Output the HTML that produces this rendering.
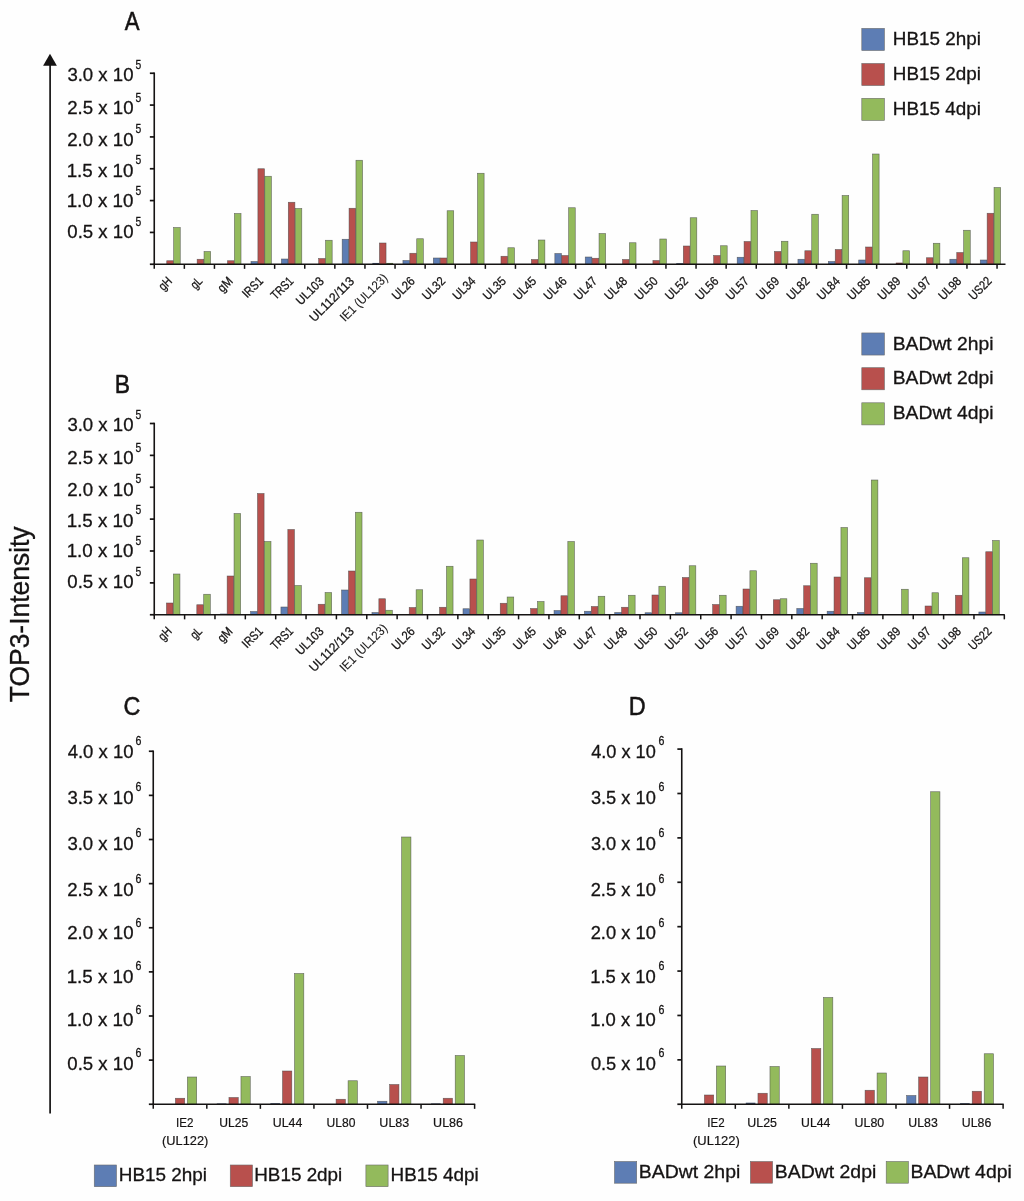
<!DOCTYPE html>
<html lang="en"><head><meta charset="utf-8"><title>TOP3-Intensity figure</title>
<style>html,body{margin:0;padding:0;background:#fefefe;}svg{display:block;}text{font-family:"Liberation Sans", sans-serif;fill:#151313;stroke:#151313;stroke-width:0.3px;}</style>
</head><body>
<svg width="1024" height="1201" viewBox="0 0 1024 1201">
<rect x="0" y="0" width="1024" height="1201" fill="#fefefe"/>
<line x1="50.1" y1="62" x2="50.1" y2="1113.4" stroke="#151313" stroke-width="1.7"/>
<polygon points="50,53.7 56.9,65.7 43.1,65.7" fill="#151313"/>
<text x="29.30" y="702.20" font-size="27.2" text-anchor="start" textLength="175.80" lengthAdjust="spacingAndGlyphs" transform="rotate(-90 29.30 702.20)">TOP3-Intensity</text>
<text x="124.66" y="29.80" font-size="25" text-anchor="start" textLength="14.79" lengthAdjust="spacingAndGlyphs" style="stroke-width:0.5px">A</text>
<text x="114.82" y="392.70" font-size="25" text-anchor="start" textLength="15.29" lengthAdjust="spacingAndGlyphs" style="stroke-width:0.5px">B</text>
<text x="123.51" y="714.60" font-size="25" text-anchor="start" textLength="16.88" lengthAdjust="spacingAndGlyphs" style="stroke-width:0.5px">C</text>
<text x="628.87" y="714.60" font-size="25" text-anchor="start" textLength="16.95" lengthAdjust="spacingAndGlyphs" style="stroke-width:0.5px">D</text>
<rect x="166.75" y="260.75" width="6.60" height="3.50" fill="#b8504d" stroke="#4a4a4a" stroke-opacity="0.8" stroke-width="0.6"/>
<rect x="173.65" y="227.50" width="6.60" height="36.75" fill="#93ba5c" stroke="#4a4a4a" stroke-opacity="0.8" stroke-width="0.6"/>
<rect x="197.13" y="259.25" width="6.60" height="5.00" fill="#b8504d" stroke="#4a4a4a" stroke-opacity="0.8" stroke-width="0.6"/>
<rect x="204.03" y="251.50" width="6.60" height="12.75" fill="#93ba5c" stroke="#4a4a4a" stroke-opacity="0.8" stroke-width="0.6"/>
<rect x="227.52" y="260.75" width="6.60" height="3.50" fill="#b8504d" stroke="#4a4a4a" stroke-opacity="0.8" stroke-width="0.6"/>
<rect x="234.42" y="213.50" width="6.60" height="50.75" fill="#93ba5c" stroke="#4a4a4a" stroke-opacity="0.8" stroke-width="0.6"/>
<rect x="251.00" y="261.50" width="6.60" height="2.75" fill="#5d7db4" stroke="#4a4a4a" stroke-opacity="0.8" stroke-width="0.6"/>
<rect x="257.90" y="168.75" width="6.60" height="95.50" fill="#b8504d" stroke="#4a4a4a" stroke-opacity="0.8" stroke-width="0.6"/>
<rect x="264.80" y="176.25" width="6.60" height="88.00" fill="#93ba5c" stroke="#4a4a4a" stroke-opacity="0.8" stroke-width="0.6"/>
<rect x="281.39" y="259.00" width="6.60" height="5.25" fill="#5d7db4" stroke="#4a4a4a" stroke-opacity="0.8" stroke-width="0.6"/>
<rect x="288.29" y="202.25" width="6.60" height="62.00" fill="#b8504d" stroke="#4a4a4a" stroke-opacity="0.8" stroke-width="0.6"/>
<rect x="295.19" y="208.50" width="6.60" height="55.75" fill="#93ba5c" stroke="#4a4a4a" stroke-opacity="0.8" stroke-width="0.6"/>
<rect x="318.67" y="258.50" width="6.60" height="5.75" fill="#b8504d" stroke="#4a4a4a" stroke-opacity="0.8" stroke-width="0.6"/>
<rect x="325.57" y="240.25" width="6.60" height="24.00" fill="#93ba5c" stroke="#4a4a4a" stroke-opacity="0.8" stroke-width="0.6"/>
<rect x="342.16" y="239.25" width="6.60" height="25.00" fill="#5d7db4" stroke="#4a4a4a" stroke-opacity="0.8" stroke-width="0.6"/>
<rect x="349.06" y="208.25" width="6.60" height="56.00" fill="#b8504d" stroke="#4a4a4a" stroke-opacity="0.8" stroke-width="0.6"/>
<rect x="355.96" y="160.25" width="6.60" height="104.00" fill="#93ba5c" stroke="#4a4a4a" stroke-opacity="0.8" stroke-width="0.6"/>
<rect x="372.39" y="262.95" width="6.90" height="1.30" fill="#3f4f6e"/>
<rect x="379.44" y="243.00" width="6.60" height="21.25" fill="#b8504d" stroke="#4a4a4a" stroke-opacity="0.8" stroke-width="0.6"/>
<rect x="386.19" y="262.95" width="6.90" height="1.30" fill="#5d7340"/>
<rect x="402.93" y="260.50" width="6.60" height="3.75" fill="#5d7db4" stroke="#4a4a4a" stroke-opacity="0.8" stroke-width="0.6"/>
<rect x="409.83" y="253.25" width="6.60" height="11.00" fill="#b8504d" stroke="#4a4a4a" stroke-opacity="0.8" stroke-width="0.6"/>
<rect x="416.73" y="238.75" width="6.60" height="25.50" fill="#93ba5c" stroke="#4a4a4a" stroke-opacity="0.8" stroke-width="0.6"/>
<rect x="433.31" y="258.00" width="6.60" height="6.25" fill="#5d7db4" stroke="#4a4a4a" stroke-opacity="0.8" stroke-width="0.6"/>
<rect x="440.21" y="258.00" width="6.60" height="6.25" fill="#b8504d" stroke="#4a4a4a" stroke-opacity="0.8" stroke-width="0.6"/>
<rect x="447.12" y="210.75" width="6.60" height="53.50" fill="#93ba5c" stroke="#4a4a4a" stroke-opacity="0.8" stroke-width="0.6"/>
<rect x="470.60" y="242.00" width="6.60" height="22.25" fill="#b8504d" stroke="#4a4a4a" stroke-opacity="0.8" stroke-width="0.6"/>
<rect x="477.50" y="173.25" width="6.60" height="91.00" fill="#93ba5c" stroke="#4a4a4a" stroke-opacity="0.8" stroke-width="0.6"/>
<rect x="500.98" y="256.25" width="6.60" height="8.00" fill="#b8504d" stroke="#4a4a4a" stroke-opacity="0.8" stroke-width="0.6"/>
<rect x="507.88" y="247.75" width="6.60" height="16.50" fill="#93ba5c" stroke="#4a4a4a" stroke-opacity="0.8" stroke-width="0.6"/>
<rect x="531.37" y="259.50" width="6.60" height="4.75" fill="#b8504d" stroke="#4a4a4a" stroke-opacity="0.8" stroke-width="0.6"/>
<rect x="538.27" y="240.00" width="6.60" height="24.25" fill="#93ba5c" stroke="#4a4a4a" stroke-opacity="0.8" stroke-width="0.6"/>
<rect x="554.85" y="253.50" width="6.60" height="10.75" fill="#5d7db4" stroke="#4a4a4a" stroke-opacity="0.8" stroke-width="0.6"/>
<rect x="561.75" y="255.50" width="6.60" height="8.75" fill="#b8504d" stroke="#4a4a4a" stroke-opacity="0.8" stroke-width="0.6"/>
<rect x="568.65" y="207.75" width="6.60" height="56.50" fill="#93ba5c" stroke="#4a4a4a" stroke-opacity="0.8" stroke-width="0.6"/>
<rect x="585.24" y="257.00" width="6.60" height="7.25" fill="#5d7db4" stroke="#4a4a4a" stroke-opacity="0.8" stroke-width="0.6"/>
<rect x="592.14" y="258.25" width="6.60" height="6.00" fill="#b8504d" stroke="#4a4a4a" stroke-opacity="0.8" stroke-width="0.6"/>
<rect x="599.04" y="233.50" width="6.60" height="30.75" fill="#93ba5c" stroke="#4a4a4a" stroke-opacity="0.8" stroke-width="0.6"/>
<rect x="622.52" y="259.50" width="6.60" height="4.75" fill="#b8504d" stroke="#4a4a4a" stroke-opacity="0.8" stroke-width="0.6"/>
<rect x="629.42" y="242.75" width="6.60" height="21.50" fill="#93ba5c" stroke="#4a4a4a" stroke-opacity="0.8" stroke-width="0.6"/>
<rect x="652.91" y="260.50" width="6.60" height="3.75" fill="#b8504d" stroke="#4a4a4a" stroke-opacity="0.8" stroke-width="0.6"/>
<rect x="659.81" y="239.00" width="6.60" height="25.25" fill="#93ba5c" stroke="#4a4a4a" stroke-opacity="0.8" stroke-width="0.6"/>
<rect x="676.25" y="263.20" width="6.90" height="1.05" fill="#3f4f6e"/>
<rect x="683.30" y="246.00" width="6.60" height="18.25" fill="#b8504d" stroke="#4a4a4a" stroke-opacity="0.8" stroke-width="0.6"/>
<rect x="690.20" y="217.75" width="6.60" height="46.50" fill="#93ba5c" stroke="#4a4a4a" stroke-opacity="0.8" stroke-width="0.6"/>
<rect x="713.68" y="255.50" width="6.60" height="8.75" fill="#b8504d" stroke="#4a4a4a" stroke-opacity="0.8" stroke-width="0.6"/>
<rect x="720.58" y="245.75" width="6.60" height="18.50" fill="#93ba5c" stroke="#4a4a4a" stroke-opacity="0.8" stroke-width="0.6"/>
<rect x="737.17" y="257.25" width="6.60" height="7.00" fill="#5d7db4" stroke="#4a4a4a" stroke-opacity="0.8" stroke-width="0.6"/>
<rect x="744.07" y="241.50" width="6.60" height="22.75" fill="#b8504d" stroke="#4a4a4a" stroke-opacity="0.8" stroke-width="0.6"/>
<rect x="750.97" y="210.50" width="6.60" height="53.75" fill="#93ba5c" stroke="#4a4a4a" stroke-opacity="0.8" stroke-width="0.6"/>
<rect x="774.45" y="251.50" width="6.60" height="12.75" fill="#b8504d" stroke="#4a4a4a" stroke-opacity="0.8" stroke-width="0.6"/>
<rect x="781.35" y="241.25" width="6.60" height="23.00" fill="#93ba5c" stroke="#4a4a4a" stroke-opacity="0.8" stroke-width="0.6"/>
<rect x="797.94" y="259.25" width="6.60" height="5.00" fill="#5d7db4" stroke="#4a4a4a" stroke-opacity="0.8" stroke-width="0.6"/>
<rect x="804.84" y="250.75" width="6.60" height="13.50" fill="#b8504d" stroke="#4a4a4a" stroke-opacity="0.8" stroke-width="0.6"/>
<rect x="811.74" y="214.25" width="6.60" height="50.00" fill="#93ba5c" stroke="#4a4a4a" stroke-opacity="0.8" stroke-width="0.6"/>
<rect x="828.32" y="261.50" width="6.60" height="2.75" fill="#5d7db4" stroke="#4a4a4a" stroke-opacity="0.8" stroke-width="0.6"/>
<rect x="835.22" y="249.50" width="6.60" height="14.75" fill="#b8504d" stroke="#4a4a4a" stroke-opacity="0.8" stroke-width="0.6"/>
<rect x="842.12" y="195.50" width="6.60" height="68.75" fill="#93ba5c" stroke="#4a4a4a" stroke-opacity="0.8" stroke-width="0.6"/>
<rect x="858.71" y="260.00" width="6.60" height="4.25" fill="#5d7db4" stroke="#4a4a4a" stroke-opacity="0.8" stroke-width="0.6"/>
<rect x="865.61" y="247.00" width="6.60" height="17.25" fill="#b8504d" stroke="#4a4a4a" stroke-opacity="0.8" stroke-width="0.6"/>
<rect x="872.50" y="154.00" width="6.60" height="110.25" fill="#93ba5c" stroke="#4a4a4a" stroke-opacity="0.8" stroke-width="0.6"/>
<rect x="895.84" y="262.70" width="6.90" height="1.55" fill="#6e3a38"/>
<rect x="902.89" y="250.75" width="6.60" height="13.50" fill="#93ba5c" stroke="#4a4a4a" stroke-opacity="0.8" stroke-width="0.6"/>
<rect x="926.38" y="257.75" width="6.60" height="6.50" fill="#b8504d" stroke="#4a4a4a" stroke-opacity="0.8" stroke-width="0.6"/>
<rect x="933.27" y="243.25" width="6.60" height="21.00" fill="#93ba5c" stroke="#4a4a4a" stroke-opacity="0.8" stroke-width="0.6"/>
<rect x="949.86" y="259.25" width="6.60" height="5.00" fill="#5d7db4" stroke="#4a4a4a" stroke-opacity="0.8" stroke-width="0.6"/>
<rect x="956.76" y="252.50" width="6.60" height="11.75" fill="#b8504d" stroke="#4a4a4a" stroke-opacity="0.8" stroke-width="0.6"/>
<rect x="963.66" y="230.25" width="6.60" height="34.00" fill="#93ba5c" stroke="#4a4a4a" stroke-opacity="0.8" stroke-width="0.6"/>
<rect x="980.25" y="260.00" width="6.60" height="4.25" fill="#5d7db4" stroke="#4a4a4a" stroke-opacity="0.8" stroke-width="0.6"/>
<rect x="987.14" y="213.25" width="6.60" height="51.00" fill="#b8504d" stroke="#4a4a4a" stroke-opacity="0.8" stroke-width="0.6"/>
<rect x="994.04" y="187.50" width="6.60" height="76.75" fill="#93ba5c" stroke="#4a4a4a" stroke-opacity="0.8" stroke-width="0.6"/>
<line x1="154.25" y1="72.45" x2="154.25" y2="264.85" stroke="#151313" stroke-width="1.6"/>
<line x1="153.65" y1="264.25" x2="1005.50" y2="264.25" stroke="#151313" stroke-width="1.35"/>
<line x1="149.85" y1="73.25" x2="154.25" y2="73.25" stroke="#151313" stroke-width="1.7"/>
<line x1="149.85" y1="105.08" x2="154.25" y2="105.08" stroke="#151313" stroke-width="1.7"/>
<line x1="149.85" y1="136.92" x2="154.25" y2="136.92" stroke="#151313" stroke-width="1.7"/>
<line x1="149.85" y1="168.75" x2="154.25" y2="168.75" stroke="#151313" stroke-width="1.7"/>
<line x1="149.85" y1="200.58" x2="154.25" y2="200.58" stroke="#151313" stroke-width="1.7"/>
<line x1="149.85" y1="232.42" x2="154.25" y2="232.42" stroke="#151313" stroke-width="1.7"/>
<line x1="149.85" y1="264.25" x2="154.25" y2="264.25" stroke="#151313" stroke-width="1.7"/>
<line x1="154.25" y1="264.25" x2="154.25" y2="268.85" stroke="#151313" stroke-width="1.5"/>
<line x1="184.35" y1="264.25" x2="184.35" y2="268.85" stroke="#151313" stroke-width="1.5"/>
<line x1="214.45" y1="264.25" x2="214.45" y2="268.85" stroke="#151313" stroke-width="1.5"/>
<line x1="244.55" y1="264.25" x2="244.55" y2="268.85" stroke="#151313" stroke-width="1.5"/>
<line x1="274.65" y1="264.25" x2="274.65" y2="268.85" stroke="#151313" stroke-width="1.5"/>
<line x1="304.75" y1="264.25" x2="304.75" y2="268.85" stroke="#151313" stroke-width="1.5"/>
<line x1="334.85" y1="264.25" x2="334.85" y2="268.85" stroke="#151313" stroke-width="1.5"/>
<line x1="364.95" y1="264.25" x2="364.95" y2="268.85" stroke="#151313" stroke-width="1.5"/>
<line x1="395.05" y1="264.25" x2="395.05" y2="268.85" stroke="#151313" stroke-width="1.5"/>
<line x1="425.15" y1="264.25" x2="425.15" y2="268.85" stroke="#151313" stroke-width="1.5"/>
<line x1="455.25" y1="264.25" x2="455.25" y2="268.85" stroke="#151313" stroke-width="1.5"/>
<line x1="485.35" y1="264.25" x2="485.35" y2="268.85" stroke="#151313" stroke-width="1.5"/>
<line x1="515.45" y1="264.25" x2="515.45" y2="268.85" stroke="#151313" stroke-width="1.5"/>
<line x1="545.55" y1="264.25" x2="545.55" y2="268.85" stroke="#151313" stroke-width="1.5"/>
<line x1="575.65" y1="264.25" x2="575.65" y2="268.85" stroke="#151313" stroke-width="1.5"/>
<line x1="605.75" y1="264.25" x2="605.75" y2="268.85" stroke="#151313" stroke-width="1.5"/>
<line x1="635.85" y1="264.25" x2="635.85" y2="268.85" stroke="#151313" stroke-width="1.5"/>
<line x1="665.95" y1="264.25" x2="665.95" y2="268.85" stroke="#151313" stroke-width="1.5"/>
<line x1="696.05" y1="264.25" x2="696.05" y2="268.85" stroke="#151313" stroke-width="1.5"/>
<line x1="726.15" y1="264.25" x2="726.15" y2="268.85" stroke="#151313" stroke-width="1.5"/>
<line x1="756.25" y1="264.25" x2="756.25" y2="268.85" stroke="#151313" stroke-width="1.5"/>
<line x1="786.35" y1="264.25" x2="786.35" y2="268.85" stroke="#151313" stroke-width="1.5"/>
<line x1="816.45" y1="264.25" x2="816.45" y2="268.85" stroke="#151313" stroke-width="1.5"/>
<line x1="846.55" y1="264.25" x2="846.55" y2="268.85" stroke="#151313" stroke-width="1.5"/>
<line x1="876.65" y1="264.25" x2="876.65" y2="268.85" stroke="#151313" stroke-width="1.5"/>
<line x1="906.75" y1="264.25" x2="906.75" y2="268.85" stroke="#151313" stroke-width="1.5"/>
<line x1="936.85" y1="264.25" x2="936.85" y2="268.85" stroke="#151313" stroke-width="1.5"/>
<line x1="966.95" y1="264.25" x2="966.95" y2="268.85" stroke="#151313" stroke-width="1.5"/>
<line x1="997.05" y1="264.25" x2="997.05" y2="268.85" stroke="#151313" stroke-width="1.5"/>
<text x="67.39" y="81.15" font-size="18.9" text-anchor="start" textLength="66.13" lengthAdjust="spacingAndGlyphs">3.0 x 10</text>
<text x="135.59" y="68.55" font-size="12.6" text-anchor="start" textLength="5.75" lengthAdjust="spacingAndGlyphs">5</text>
<text x="67.16" y="114.45" font-size="18.9" text-anchor="start" textLength="66.37" lengthAdjust="spacingAndGlyphs">2.5 x 10</text>
<text x="135.59" y="101.85" font-size="12.6" text-anchor="start" textLength="5.75" lengthAdjust="spacingAndGlyphs">5</text>
<text x="67.16" y="145.75" font-size="18.9" text-anchor="start" textLength="66.37" lengthAdjust="spacingAndGlyphs">2.0 x 10</text>
<text x="135.59" y="133.15" font-size="12.6" text-anchor="start" textLength="5.75" lengthAdjust="spacingAndGlyphs">5</text>
<text x="66.67" y="176.55" font-size="18.9" text-anchor="start" textLength="66.87" lengthAdjust="spacingAndGlyphs">1.5 x 10</text>
<text x="135.59" y="163.95" font-size="12.6" text-anchor="start" textLength="5.75" lengthAdjust="spacingAndGlyphs">5</text>
<text x="66.67" y="207.40" font-size="18.9" text-anchor="start" textLength="66.87" lengthAdjust="spacingAndGlyphs">1.0 x 10</text>
<text x="135.59" y="194.80" font-size="12.6" text-anchor="start" textLength="5.75" lengthAdjust="spacingAndGlyphs">5</text>
<text x="67.37" y="238.20" font-size="18.9" text-anchor="start" textLength="66.15" lengthAdjust="spacingAndGlyphs">0.5 x 10</text>
<text x="135.59" y="225.60" font-size="12.6" text-anchor="start" textLength="5.75" lengthAdjust="spacingAndGlyphs">5</text>
<text x="172.83" y="281.95" font-size="12.6" text-anchor="end" textLength="13.20" lengthAdjust="spacingAndGlyphs" transform="rotate(-45 172.83 281.95)" style="stroke-width:0.28px">gH</text>
<text x="203.19" y="281.95" font-size="12.6" text-anchor="end" textLength="11.00" lengthAdjust="spacingAndGlyphs" transform="rotate(-45 203.19 281.95)" style="stroke-width:0.28px">gL</text>
<text x="233.55" y="281.95" font-size="12.6" text-anchor="end" textLength="15.50" lengthAdjust="spacingAndGlyphs" transform="rotate(-45 233.55 281.95)" style="stroke-width:0.28px">gM</text>
<text x="263.91" y="281.95" font-size="12.6" text-anchor="end" textLength="23.50" lengthAdjust="spacingAndGlyphs" transform="rotate(-45 263.91 281.95)" style="stroke-width:0.28px">IRS1</text>
<text x="294.27" y="281.95" font-size="12.6" text-anchor="end" textLength="26.00" lengthAdjust="spacingAndGlyphs" transform="rotate(-45 294.27 281.95)" style="stroke-width:0.28px">TRS1</text>
<text x="324.63" y="281.95" font-size="12.6" text-anchor="end" textLength="33.50" lengthAdjust="spacingAndGlyphs" transform="rotate(-45 324.63 281.95)" style="stroke-width:0.28px">UL103</text>
<text x="354.99" y="281.95" font-size="12.6" text-anchor="end" textLength="57.20" lengthAdjust="spacingAndGlyphs" transform="rotate(-45 354.99 281.95)" style="stroke-width:0.28px">UL112/113</text>
<text x="388.35" y="278.95" font-size="12.6" text-anchor="end" textLength="61.30" lengthAdjust="spacingAndGlyphs" transform="rotate(-45 388.35 278.95)" style="stroke-width:0.1px;fill:#222020">IE1 (UL123)</text>
<text x="415.71" y="281.95" font-size="12.6" text-anchor="end" textLength="26.50" lengthAdjust="spacingAndGlyphs" transform="rotate(-45 415.71 281.95)" style="stroke-width:0.28px">UL26</text>
<text x="446.07" y="281.95" font-size="12.6" text-anchor="end" textLength="26.50" lengthAdjust="spacingAndGlyphs" transform="rotate(-45 446.07 281.95)" style="stroke-width:0.28px">UL32</text>
<text x="476.43" y="281.95" font-size="12.6" text-anchor="end" textLength="26.50" lengthAdjust="spacingAndGlyphs" transform="rotate(-45 476.43 281.95)" style="stroke-width:0.28px">UL34</text>
<text x="506.79" y="281.95" font-size="12.6" text-anchor="end" textLength="26.50" lengthAdjust="spacingAndGlyphs" transform="rotate(-45 506.79 281.95)" style="stroke-width:0.28px">UL35</text>
<text x="537.15" y="281.95" font-size="12.6" text-anchor="end" textLength="26.50" lengthAdjust="spacingAndGlyphs" transform="rotate(-45 537.15 281.95)" style="stroke-width:0.28px">UL45</text>
<text x="567.51" y="281.95" font-size="12.6" text-anchor="end" textLength="26.50" lengthAdjust="spacingAndGlyphs" transform="rotate(-45 567.51 281.95)" style="stroke-width:0.28px">UL46</text>
<text x="597.87" y="281.95" font-size="12.6" text-anchor="end" textLength="26.50" lengthAdjust="spacingAndGlyphs" transform="rotate(-45 597.87 281.95)" style="stroke-width:0.28px">UL47</text>
<text x="628.23" y="281.95" font-size="12.6" text-anchor="end" textLength="26.50" lengthAdjust="spacingAndGlyphs" transform="rotate(-45 628.23 281.95)" style="stroke-width:0.28px">UL48</text>
<text x="658.59" y="281.95" font-size="12.6" text-anchor="end" textLength="26.50" lengthAdjust="spacingAndGlyphs" transform="rotate(-45 658.59 281.95)" style="stroke-width:0.28px">UL50</text>
<text x="688.95" y="281.95" font-size="12.6" text-anchor="end" textLength="26.50" lengthAdjust="spacingAndGlyphs" transform="rotate(-45 688.95 281.95)" style="stroke-width:0.28px">UL52</text>
<text x="719.31" y="281.95" font-size="12.6" text-anchor="end" textLength="26.50" lengthAdjust="spacingAndGlyphs" transform="rotate(-45 719.31 281.95)" style="stroke-width:0.28px">UL56</text>
<text x="749.67" y="281.95" font-size="12.6" text-anchor="end" textLength="26.50" lengthAdjust="spacingAndGlyphs" transform="rotate(-45 749.67 281.95)" style="stroke-width:0.28px">UL57</text>
<text x="780.03" y="281.95" font-size="12.6" text-anchor="end" textLength="26.50" lengthAdjust="spacingAndGlyphs" transform="rotate(-45 780.03 281.95)" style="stroke-width:0.28px">UL69</text>
<text x="810.39" y="281.95" font-size="12.6" text-anchor="end" textLength="26.50" lengthAdjust="spacingAndGlyphs" transform="rotate(-45 810.39 281.95)" style="stroke-width:0.28px">UL82</text>
<text x="840.75" y="281.95" font-size="12.6" text-anchor="end" textLength="26.50" lengthAdjust="spacingAndGlyphs" transform="rotate(-45 840.75 281.95)" style="stroke-width:0.28px">UL84</text>
<text x="871.11" y="281.95" font-size="12.6" text-anchor="end" textLength="26.50" lengthAdjust="spacingAndGlyphs" transform="rotate(-45 871.11 281.95)" style="stroke-width:0.28px">UL85</text>
<text x="901.47" y="281.95" font-size="12.6" text-anchor="end" textLength="26.50" lengthAdjust="spacingAndGlyphs" transform="rotate(-45 901.47 281.95)" style="stroke-width:0.28px">UL89</text>
<text x="931.83" y="281.95" font-size="12.6" text-anchor="end" textLength="26.50" lengthAdjust="spacingAndGlyphs" transform="rotate(-45 931.83 281.95)" style="stroke-width:0.28px">UL97</text>
<text x="962.19" y="281.95" font-size="12.6" text-anchor="end" textLength="26.50" lengthAdjust="spacingAndGlyphs" transform="rotate(-45 962.19 281.95)" style="stroke-width:0.28px">UL98</text>
<text x="992.55" y="281.95" font-size="12.6" text-anchor="end" textLength="26.50" lengthAdjust="spacingAndGlyphs" transform="rotate(-45 992.55 281.95)" style="stroke-width:0.28px">US22</text>
<rect x="166.45" y="603.00" width="6.60" height="11.75" fill="#b8504d" stroke="#4a4a4a" stroke-opacity="0.8" stroke-width="0.6"/>
<rect x="173.35" y="574.00" width="6.60" height="40.75" fill="#93ba5c" stroke="#4a4a4a" stroke-opacity="0.8" stroke-width="0.6"/>
<rect x="196.80" y="604.75" width="6.60" height="10.00" fill="#b8504d" stroke="#4a4a4a" stroke-opacity="0.8" stroke-width="0.6"/>
<rect x="203.70" y="594.25" width="6.60" height="20.50" fill="#93ba5c" stroke="#4a4a4a" stroke-opacity="0.8" stroke-width="0.6"/>
<rect x="220.09" y="613.70" width="6.90" height="1.05" fill="#3f4f6e"/>
<rect x="227.14" y="576.00" width="6.60" height="38.75" fill="#b8504d" stroke="#4a4a4a" stroke-opacity="0.8" stroke-width="0.6"/>
<rect x="234.04" y="513.50" width="6.60" height="101.25" fill="#93ba5c" stroke="#4a4a4a" stroke-opacity="0.8" stroke-width="0.6"/>
<rect x="250.59" y="611.50" width="6.60" height="3.25" fill="#5d7db4" stroke="#4a4a4a" stroke-opacity="0.8" stroke-width="0.6"/>
<rect x="257.48" y="493.50" width="6.60" height="121.25" fill="#b8504d" stroke="#4a4a4a" stroke-opacity="0.8" stroke-width="0.6"/>
<rect x="264.38" y="541.50" width="6.60" height="73.25" fill="#93ba5c" stroke="#4a4a4a" stroke-opacity="0.8" stroke-width="0.6"/>
<rect x="280.93" y="607.00" width="6.60" height="7.75" fill="#5d7db4" stroke="#4a4a4a" stroke-opacity="0.8" stroke-width="0.6"/>
<rect x="287.83" y="529.50" width="6.60" height="85.25" fill="#b8504d" stroke="#4a4a4a" stroke-opacity="0.8" stroke-width="0.6"/>
<rect x="294.73" y="585.50" width="6.60" height="29.25" fill="#93ba5c" stroke="#4a4a4a" stroke-opacity="0.8" stroke-width="0.6"/>
<rect x="318.17" y="604.25" width="6.60" height="10.50" fill="#b8504d" stroke="#4a4a4a" stroke-opacity="0.8" stroke-width="0.6"/>
<rect x="325.07" y="592.50" width="6.60" height="22.25" fill="#93ba5c" stroke="#4a4a4a" stroke-opacity="0.8" stroke-width="0.6"/>
<rect x="341.62" y="590.00" width="6.60" height="24.75" fill="#5d7db4" stroke="#4a4a4a" stroke-opacity="0.8" stroke-width="0.6"/>
<rect x="348.52" y="571.00" width="6.60" height="43.75" fill="#b8504d" stroke="#4a4a4a" stroke-opacity="0.8" stroke-width="0.6"/>
<rect x="355.42" y="512.25" width="6.60" height="102.50" fill="#93ba5c" stroke="#4a4a4a" stroke-opacity="0.8" stroke-width="0.6"/>
<rect x="371.96" y="612.50" width="6.60" height="2.25" fill="#5d7db4" stroke="#4a4a4a" stroke-opacity="0.8" stroke-width="0.6"/>
<rect x="378.86" y="598.75" width="6.60" height="16.00" fill="#b8504d" stroke="#4a4a4a" stroke-opacity="0.8" stroke-width="0.6"/>
<rect x="385.76" y="610.25" width="6.60" height="4.50" fill="#93ba5c" stroke="#4a4a4a" stroke-opacity="0.8" stroke-width="0.6"/>
<rect x="409.21" y="607.50" width="6.60" height="7.25" fill="#b8504d" stroke="#4a4a4a" stroke-opacity="0.8" stroke-width="0.6"/>
<rect x="416.11" y="589.75" width="6.60" height="25.00" fill="#93ba5c" stroke="#4a4a4a" stroke-opacity="0.8" stroke-width="0.6"/>
<rect x="439.55" y="607.25" width="6.60" height="7.50" fill="#b8504d" stroke="#4a4a4a" stroke-opacity="0.8" stroke-width="0.6"/>
<rect x="446.45" y="566.25" width="6.60" height="48.50" fill="#93ba5c" stroke="#4a4a4a" stroke-opacity="0.8" stroke-width="0.6"/>
<rect x="463.00" y="608.75" width="6.60" height="6.00" fill="#5d7db4" stroke="#4a4a4a" stroke-opacity="0.8" stroke-width="0.6"/>
<rect x="469.90" y="579.00" width="6.60" height="35.75" fill="#b8504d" stroke="#4a4a4a" stroke-opacity="0.8" stroke-width="0.6"/>
<rect x="476.80" y="540.00" width="6.60" height="74.75" fill="#93ba5c" stroke="#4a4a4a" stroke-opacity="0.8" stroke-width="0.6"/>
<rect x="500.24" y="603.25" width="6.60" height="11.50" fill="#b8504d" stroke="#4a4a4a" stroke-opacity="0.8" stroke-width="0.6"/>
<rect x="507.14" y="597.00" width="6.60" height="17.75" fill="#93ba5c" stroke="#4a4a4a" stroke-opacity="0.8" stroke-width="0.6"/>
<rect x="530.59" y="608.50" width="6.60" height="6.25" fill="#b8504d" stroke="#4a4a4a" stroke-opacity="0.8" stroke-width="0.6"/>
<rect x="537.49" y="601.50" width="6.60" height="13.25" fill="#93ba5c" stroke="#4a4a4a" stroke-opacity="0.8" stroke-width="0.6"/>
<rect x="554.03" y="610.50" width="6.60" height="4.25" fill="#5d7db4" stroke="#4a4a4a" stroke-opacity="0.8" stroke-width="0.6"/>
<rect x="560.93" y="595.75" width="6.60" height="19.00" fill="#b8504d" stroke="#4a4a4a" stroke-opacity="0.8" stroke-width="0.6"/>
<rect x="567.83" y="541.50" width="6.60" height="73.25" fill="#93ba5c" stroke="#4a4a4a" stroke-opacity="0.8" stroke-width="0.6"/>
<rect x="584.38" y="611.25" width="6.60" height="3.50" fill="#5d7db4" stroke="#4a4a4a" stroke-opacity="0.8" stroke-width="0.6"/>
<rect x="591.28" y="606.50" width="6.60" height="8.25" fill="#b8504d" stroke="#4a4a4a" stroke-opacity="0.8" stroke-width="0.6"/>
<rect x="598.18" y="596.25" width="6.60" height="18.50" fill="#93ba5c" stroke="#4a4a4a" stroke-opacity="0.8" stroke-width="0.6"/>
<rect x="614.72" y="612.50" width="6.60" height="2.25" fill="#5d7db4" stroke="#4a4a4a" stroke-opacity="0.8" stroke-width="0.6"/>
<rect x="621.62" y="607.25" width="6.60" height="7.50" fill="#b8504d" stroke="#4a4a4a" stroke-opacity="0.8" stroke-width="0.6"/>
<rect x="628.52" y="595.25" width="6.60" height="19.50" fill="#93ba5c" stroke="#4a4a4a" stroke-opacity="0.8" stroke-width="0.6"/>
<rect x="645.07" y="612.75" width="6.60" height="2.00" fill="#5d7db4" stroke="#4a4a4a" stroke-opacity="0.8" stroke-width="0.6"/>
<rect x="651.97" y="595.00" width="6.60" height="19.75" fill="#b8504d" stroke="#4a4a4a" stroke-opacity="0.8" stroke-width="0.6"/>
<rect x="658.87" y="586.25" width="6.60" height="28.50" fill="#93ba5c" stroke="#4a4a4a" stroke-opacity="0.8" stroke-width="0.6"/>
<rect x="675.41" y="612.75" width="6.60" height="2.00" fill="#5d7db4" stroke="#4a4a4a" stroke-opacity="0.8" stroke-width="0.6"/>
<rect x="682.31" y="577.50" width="6.60" height="37.25" fill="#b8504d" stroke="#4a4a4a" stroke-opacity="0.8" stroke-width="0.6"/>
<rect x="689.21" y="565.75" width="6.60" height="49.00" fill="#93ba5c" stroke="#4a4a4a" stroke-opacity="0.8" stroke-width="0.6"/>
<rect x="712.66" y="604.50" width="6.60" height="10.25" fill="#b8504d" stroke="#4a4a4a" stroke-opacity="0.8" stroke-width="0.6"/>
<rect x="719.56" y="595.25" width="6.60" height="19.50" fill="#93ba5c" stroke="#4a4a4a" stroke-opacity="0.8" stroke-width="0.6"/>
<rect x="736.10" y="606.25" width="6.60" height="8.50" fill="#5d7db4" stroke="#4a4a4a" stroke-opacity="0.8" stroke-width="0.6"/>
<rect x="743.00" y="589.00" width="6.60" height="25.75" fill="#b8504d" stroke="#4a4a4a" stroke-opacity="0.8" stroke-width="0.6"/>
<rect x="749.90" y="570.75" width="6.60" height="44.00" fill="#93ba5c" stroke="#4a4a4a" stroke-opacity="0.8" stroke-width="0.6"/>
<rect x="773.35" y="599.75" width="6.60" height="15.00" fill="#b8504d" stroke="#4a4a4a" stroke-opacity="0.8" stroke-width="0.6"/>
<rect x="780.25" y="598.75" width="6.60" height="16.00" fill="#93ba5c" stroke="#4a4a4a" stroke-opacity="0.8" stroke-width="0.6"/>
<rect x="796.79" y="608.50" width="6.60" height="6.25" fill="#5d7db4" stroke="#4a4a4a" stroke-opacity="0.8" stroke-width="0.6"/>
<rect x="803.69" y="585.75" width="6.60" height="29.00" fill="#b8504d" stroke="#4a4a4a" stroke-opacity="0.8" stroke-width="0.6"/>
<rect x="810.59" y="563.25" width="6.60" height="51.50" fill="#93ba5c" stroke="#4a4a4a" stroke-opacity="0.8" stroke-width="0.6"/>
<rect x="827.14" y="611.25" width="6.60" height="3.50" fill="#5d7db4" stroke="#4a4a4a" stroke-opacity="0.8" stroke-width="0.6"/>
<rect x="834.04" y="577.00" width="6.60" height="37.75" fill="#b8504d" stroke="#4a4a4a" stroke-opacity="0.8" stroke-width="0.6"/>
<rect x="840.94" y="527.50" width="6.60" height="87.25" fill="#93ba5c" stroke="#4a4a4a" stroke-opacity="0.8" stroke-width="0.6"/>
<rect x="857.48" y="612.50" width="6.60" height="2.25" fill="#5d7db4" stroke="#4a4a4a" stroke-opacity="0.8" stroke-width="0.6"/>
<rect x="864.38" y="577.75" width="6.60" height="37.00" fill="#b8504d" stroke="#4a4a4a" stroke-opacity="0.8" stroke-width="0.6"/>
<rect x="871.28" y="480.00" width="6.60" height="134.75" fill="#93ba5c" stroke="#4a4a4a" stroke-opacity="0.8" stroke-width="0.6"/>
<rect x="901.63" y="589.25" width="6.60" height="25.50" fill="#93ba5c" stroke="#4a4a4a" stroke-opacity="0.8" stroke-width="0.6"/>
<rect x="925.07" y="606.00" width="6.60" height="8.75" fill="#b8504d" stroke="#4a4a4a" stroke-opacity="0.8" stroke-width="0.6"/>
<rect x="931.97" y="592.75" width="6.60" height="22.00" fill="#93ba5c" stroke="#4a4a4a" stroke-opacity="0.8" stroke-width="0.6"/>
<rect x="948.37" y="613.95" width="6.90" height="0.80" fill="#3f4f6e"/>
<rect x="955.42" y="595.25" width="6.60" height="19.50" fill="#b8504d" stroke="#4a4a4a" stroke-opacity="0.8" stroke-width="0.6"/>
<rect x="962.32" y="557.75" width="6.60" height="57.00" fill="#93ba5c" stroke="#4a4a4a" stroke-opacity="0.8" stroke-width="0.6"/>
<rect x="978.86" y="612.00" width="6.60" height="2.75" fill="#5d7db4" stroke="#4a4a4a" stroke-opacity="0.8" stroke-width="0.6"/>
<rect x="985.76" y="551.75" width="6.60" height="63.00" fill="#b8504d" stroke="#4a4a4a" stroke-opacity="0.8" stroke-width="0.6"/>
<rect x="992.66" y="540.50" width="6.60" height="74.25" fill="#93ba5c" stroke="#4a4a4a" stroke-opacity="0.8" stroke-width="0.6"/>
<line x1="154.25" y1="422.70" x2="154.25" y2="615.35" stroke="#151313" stroke-width="1.6"/>
<line x1="153.65" y1="614.75" x2="1004.80" y2="614.75" stroke="#151313" stroke-width="1.35"/>
<line x1="149.85" y1="423.50" x2="154.25" y2="423.50" stroke="#151313" stroke-width="1.7"/>
<line x1="149.85" y1="455.38" x2="154.25" y2="455.38" stroke="#151313" stroke-width="1.7"/>
<line x1="149.85" y1="487.25" x2="154.25" y2="487.25" stroke="#151313" stroke-width="1.7"/>
<line x1="149.85" y1="519.12" x2="154.25" y2="519.12" stroke="#151313" stroke-width="1.7"/>
<line x1="149.85" y1="551.00" x2="154.25" y2="551.00" stroke="#151313" stroke-width="1.7"/>
<line x1="149.85" y1="582.88" x2="154.25" y2="582.88" stroke="#151313" stroke-width="1.7"/>
<line x1="149.85" y1="614.75" x2="154.25" y2="614.75" stroke="#151313" stroke-width="1.7"/>
<line x1="154.25" y1="614.75" x2="154.25" y2="619.35" stroke="#151313" stroke-width="1.5"/>
<line x1="184.61" y1="614.75" x2="184.61" y2="619.35" stroke="#151313" stroke-width="1.5"/>
<line x1="214.97" y1="614.75" x2="214.97" y2="619.35" stroke="#151313" stroke-width="1.5"/>
<line x1="245.33" y1="614.75" x2="245.33" y2="619.35" stroke="#151313" stroke-width="1.5"/>
<line x1="275.69" y1="614.75" x2="275.69" y2="619.35" stroke="#151313" stroke-width="1.5"/>
<line x1="306.05" y1="614.75" x2="306.05" y2="619.35" stroke="#151313" stroke-width="1.5"/>
<line x1="336.41" y1="614.75" x2="336.41" y2="619.35" stroke="#151313" stroke-width="1.5"/>
<line x1="366.77" y1="614.75" x2="366.77" y2="619.35" stroke="#151313" stroke-width="1.5"/>
<line x1="397.13" y1="614.75" x2="397.13" y2="619.35" stroke="#151313" stroke-width="1.5"/>
<line x1="427.49" y1="614.75" x2="427.49" y2="619.35" stroke="#151313" stroke-width="1.5"/>
<line x1="457.85" y1="614.75" x2="457.85" y2="619.35" stroke="#151313" stroke-width="1.5"/>
<line x1="488.21" y1="614.75" x2="488.21" y2="619.35" stroke="#151313" stroke-width="1.5"/>
<line x1="518.57" y1="614.75" x2="518.57" y2="619.35" stroke="#151313" stroke-width="1.5"/>
<line x1="548.93" y1="614.75" x2="548.93" y2="619.35" stroke="#151313" stroke-width="1.5"/>
<line x1="579.29" y1="614.75" x2="579.29" y2="619.35" stroke="#151313" stroke-width="1.5"/>
<line x1="609.65" y1="614.75" x2="609.65" y2="619.35" stroke="#151313" stroke-width="1.5"/>
<line x1="640.01" y1="614.75" x2="640.01" y2="619.35" stroke="#151313" stroke-width="1.5"/>
<line x1="670.37" y1="614.75" x2="670.37" y2="619.35" stroke="#151313" stroke-width="1.5"/>
<line x1="700.73" y1="614.75" x2="700.73" y2="619.35" stroke="#151313" stroke-width="1.5"/>
<line x1="731.09" y1="614.75" x2="731.09" y2="619.35" stroke="#151313" stroke-width="1.5"/>
<line x1="761.45" y1="614.75" x2="761.45" y2="619.35" stroke="#151313" stroke-width="1.5"/>
<line x1="791.81" y1="614.75" x2="791.81" y2="619.35" stroke="#151313" stroke-width="1.5"/>
<line x1="822.17" y1="614.75" x2="822.17" y2="619.35" stroke="#151313" stroke-width="1.5"/>
<line x1="852.53" y1="614.75" x2="852.53" y2="619.35" stroke="#151313" stroke-width="1.5"/>
<line x1="882.89" y1="614.75" x2="882.89" y2="619.35" stroke="#151313" stroke-width="1.5"/>
<line x1="913.25" y1="614.75" x2="913.25" y2="619.35" stroke="#151313" stroke-width="1.5"/>
<line x1="943.61" y1="614.75" x2="943.61" y2="619.35" stroke="#151313" stroke-width="1.5"/>
<line x1="973.97" y1="614.75" x2="973.97" y2="619.35" stroke="#151313" stroke-width="1.5"/>
<line x1="1004.33" y1="614.75" x2="1004.33" y2="619.35" stroke="#151313" stroke-width="1.5"/>
<text x="67.39" y="431.15" font-size="18.9" text-anchor="start" textLength="66.13" lengthAdjust="spacingAndGlyphs">3.0 x 10</text>
<text x="135.59" y="418.55" font-size="12.6" text-anchor="start" textLength="5.75" lengthAdjust="spacingAndGlyphs">5</text>
<text x="67.16" y="464.45" font-size="18.9" text-anchor="start" textLength="66.37" lengthAdjust="spacingAndGlyphs">2.5 x 10</text>
<text x="135.59" y="451.85" font-size="12.6" text-anchor="start" textLength="5.75" lengthAdjust="spacingAndGlyphs">5</text>
<text x="67.16" y="495.75" font-size="18.9" text-anchor="start" textLength="66.37" lengthAdjust="spacingAndGlyphs">2.0 x 10</text>
<text x="135.59" y="483.15" font-size="12.6" text-anchor="start" textLength="5.75" lengthAdjust="spacingAndGlyphs">5</text>
<text x="66.67" y="526.55" font-size="18.9" text-anchor="start" textLength="66.87" lengthAdjust="spacingAndGlyphs">1.5 x 10</text>
<text x="135.59" y="513.95" font-size="12.6" text-anchor="start" textLength="5.75" lengthAdjust="spacingAndGlyphs">5</text>
<text x="66.67" y="557.40" font-size="18.9" text-anchor="start" textLength="66.87" lengthAdjust="spacingAndGlyphs">1.0 x 10</text>
<text x="135.59" y="544.80" font-size="12.6" text-anchor="start" textLength="5.75" lengthAdjust="spacingAndGlyphs">5</text>
<text x="67.37" y="588.20" font-size="18.9" text-anchor="start" textLength="66.15" lengthAdjust="spacingAndGlyphs">0.5 x 10</text>
<text x="135.59" y="575.60" font-size="12.6" text-anchor="start" textLength="5.75" lengthAdjust="spacingAndGlyphs">5</text>
<text x="172.63" y="632.05" font-size="12.6" text-anchor="end" textLength="13.20" lengthAdjust="spacingAndGlyphs" transform="rotate(-45 172.63 632.05)" style="stroke-width:0.28px">gH</text>
<text x="202.99" y="632.05" font-size="12.6" text-anchor="end" textLength="11.00" lengthAdjust="spacingAndGlyphs" transform="rotate(-45 202.99 632.05)" style="stroke-width:0.28px">gL</text>
<text x="233.35" y="632.05" font-size="12.6" text-anchor="end" textLength="15.50" lengthAdjust="spacingAndGlyphs" transform="rotate(-45 233.35 632.05)" style="stroke-width:0.28px">gM</text>
<text x="263.71" y="632.05" font-size="12.6" text-anchor="end" textLength="23.50" lengthAdjust="spacingAndGlyphs" transform="rotate(-45 263.71 632.05)" style="stroke-width:0.28px">IRS1</text>
<text x="294.07" y="632.05" font-size="12.6" text-anchor="end" textLength="26.00" lengthAdjust="spacingAndGlyphs" transform="rotate(-45 294.07 632.05)" style="stroke-width:0.28px">TRS1</text>
<text x="324.43" y="632.05" font-size="12.6" text-anchor="end" textLength="33.50" lengthAdjust="spacingAndGlyphs" transform="rotate(-45 324.43 632.05)" style="stroke-width:0.28px">UL103</text>
<text x="354.79" y="632.05" font-size="12.6" text-anchor="end" textLength="57.20" lengthAdjust="spacingAndGlyphs" transform="rotate(-45 354.79 632.05)" style="stroke-width:0.28px">UL112/113</text>
<text x="388.15" y="629.05" font-size="12.6" text-anchor="end" textLength="61.30" lengthAdjust="spacingAndGlyphs" transform="rotate(-45 388.15 629.05)" style="stroke-width:0.1px;fill:#222020">IE1 (UL123)</text>
<text x="415.51" y="632.05" font-size="12.6" text-anchor="end" textLength="26.50" lengthAdjust="spacingAndGlyphs" transform="rotate(-45 415.51 632.05)" style="stroke-width:0.28px">UL26</text>
<text x="445.87" y="632.05" font-size="12.6" text-anchor="end" textLength="26.50" lengthAdjust="spacingAndGlyphs" transform="rotate(-45 445.87 632.05)" style="stroke-width:0.28px">UL32</text>
<text x="476.23" y="632.05" font-size="12.6" text-anchor="end" textLength="26.50" lengthAdjust="spacingAndGlyphs" transform="rotate(-45 476.23 632.05)" style="stroke-width:0.28px">UL34</text>
<text x="506.59" y="632.05" font-size="12.6" text-anchor="end" textLength="26.50" lengthAdjust="spacingAndGlyphs" transform="rotate(-45 506.59 632.05)" style="stroke-width:0.28px">UL35</text>
<text x="536.95" y="632.05" font-size="12.6" text-anchor="end" textLength="26.50" lengthAdjust="spacingAndGlyphs" transform="rotate(-45 536.95 632.05)" style="stroke-width:0.28px">UL45</text>
<text x="567.31" y="632.05" font-size="12.6" text-anchor="end" textLength="26.50" lengthAdjust="spacingAndGlyphs" transform="rotate(-45 567.31 632.05)" style="stroke-width:0.28px">UL46</text>
<text x="597.67" y="632.05" font-size="12.6" text-anchor="end" textLength="26.50" lengthAdjust="spacingAndGlyphs" transform="rotate(-45 597.67 632.05)" style="stroke-width:0.28px">UL47</text>
<text x="628.03" y="632.05" font-size="12.6" text-anchor="end" textLength="26.50" lengthAdjust="spacingAndGlyphs" transform="rotate(-45 628.03 632.05)" style="stroke-width:0.28px">UL48</text>
<text x="658.39" y="632.05" font-size="12.6" text-anchor="end" textLength="26.50" lengthAdjust="spacingAndGlyphs" transform="rotate(-45 658.39 632.05)" style="stroke-width:0.28px">UL50</text>
<text x="688.75" y="632.05" font-size="12.6" text-anchor="end" textLength="26.50" lengthAdjust="spacingAndGlyphs" transform="rotate(-45 688.75 632.05)" style="stroke-width:0.28px">UL52</text>
<text x="719.11" y="632.05" font-size="12.6" text-anchor="end" textLength="26.50" lengthAdjust="spacingAndGlyphs" transform="rotate(-45 719.11 632.05)" style="stroke-width:0.28px">UL56</text>
<text x="749.47" y="632.05" font-size="12.6" text-anchor="end" textLength="26.50" lengthAdjust="spacingAndGlyphs" transform="rotate(-45 749.47 632.05)" style="stroke-width:0.28px">UL57</text>
<text x="779.83" y="632.05" font-size="12.6" text-anchor="end" textLength="26.50" lengthAdjust="spacingAndGlyphs" transform="rotate(-45 779.83 632.05)" style="stroke-width:0.28px">UL69</text>
<text x="810.19" y="632.05" font-size="12.6" text-anchor="end" textLength="26.50" lengthAdjust="spacingAndGlyphs" transform="rotate(-45 810.19 632.05)" style="stroke-width:0.28px">UL82</text>
<text x="840.55" y="632.05" font-size="12.6" text-anchor="end" textLength="26.50" lengthAdjust="spacingAndGlyphs" transform="rotate(-45 840.55 632.05)" style="stroke-width:0.28px">UL84</text>
<text x="870.91" y="632.05" font-size="12.6" text-anchor="end" textLength="26.50" lengthAdjust="spacingAndGlyphs" transform="rotate(-45 870.91 632.05)" style="stroke-width:0.28px">UL85</text>
<text x="901.27" y="632.05" font-size="12.6" text-anchor="end" textLength="26.50" lengthAdjust="spacingAndGlyphs" transform="rotate(-45 901.27 632.05)" style="stroke-width:0.28px">UL89</text>
<text x="931.63" y="632.05" font-size="12.6" text-anchor="end" textLength="26.50" lengthAdjust="spacingAndGlyphs" transform="rotate(-45 931.63 632.05)" style="stroke-width:0.28px">UL97</text>
<text x="961.99" y="632.05" font-size="12.6" text-anchor="end" textLength="26.50" lengthAdjust="spacingAndGlyphs" transform="rotate(-45 961.99 632.05)" style="stroke-width:0.28px">UL98</text>
<text x="992.35" y="632.05" font-size="12.6" text-anchor="end" textLength="26.50" lengthAdjust="spacingAndGlyphs" transform="rotate(-45 992.35 632.05)" style="stroke-width:0.28px">US22</text>
<rect x="861.80" y="28.40" width="22.6" height="22.1" fill="#5d7db4" stroke="#6b6b6b" stroke-width="0.6"/>
<text x="892.75" y="45.00" font-size="18.6" text-anchor="start" textLength="88.12" lengthAdjust="spacingAndGlyphs">HB15 2hpi</text>
<rect x="861.80" y="63.45" width="22.6" height="22.1" fill="#b8504d" stroke="#6b6b6b" stroke-width="0.6"/>
<text x="892.75" y="80.05" font-size="18.6" text-anchor="start" textLength="88.12" lengthAdjust="spacingAndGlyphs">HB15 2dpi</text>
<rect x="861.80" y="98.30" width="22.6" height="22.1" fill="#93ba5c" stroke="#6b6b6b" stroke-width="0.6"/>
<text x="892.75" y="114.90" font-size="18.6" text-anchor="start" textLength="88.12" lengthAdjust="spacingAndGlyphs">HB15 4dpi</text>
<rect x="861.80" y="332.95" width="22.6" height="22.1" fill="#5d7db4" stroke="#6b6b6b" stroke-width="0.6"/>
<text x="892.72" y="349.55" font-size="18.6" text-anchor="start" textLength="100.78" lengthAdjust="spacingAndGlyphs">BADwt 2hpi</text>
<rect x="861.80" y="367.70" width="22.6" height="22.1" fill="#b8504d" stroke="#6b6b6b" stroke-width="0.6"/>
<text x="892.72" y="384.30" font-size="18.6" text-anchor="start" textLength="100.78" lengthAdjust="spacingAndGlyphs">BADwt 2dpi</text>
<rect x="861.80" y="402.80" width="22.6" height="22.1" fill="#93ba5c" stroke="#6b6b6b" stroke-width="0.6"/>
<text x="892.72" y="419.40" font-size="18.6" text-anchor="start" textLength="100.78" lengthAdjust="spacingAndGlyphs">BADwt 4dpi</text>
<rect x="175.40" y="1098.25" width="9.30" height="6.00" fill="#b8504d" stroke="#4a4a4a" stroke-opacity="0.8" stroke-width="0.6"/>
<rect x="187.40" y="1077.00" width="9.30" height="27.25" fill="#93ba5c" stroke="#4a4a4a" stroke-opacity="0.8" stroke-width="0.6"/>
<rect x="216.81" y="1103.45" width="9.60" height="0.80" fill="#3f4f6e"/>
<rect x="228.96" y="1097.50" width="9.30" height="6.75" fill="#b8504d" stroke="#4a4a4a" stroke-opacity="0.8" stroke-width="0.6"/>
<rect x="240.96" y="1076.50" width="9.30" height="27.75" fill="#93ba5c" stroke="#4a4a4a" stroke-opacity="0.8" stroke-width="0.6"/>
<rect x="270.37" y="1103.20" width="9.60" height="1.05" fill="#3f4f6e"/>
<rect x="282.52" y="1071.00" width="9.30" height="33.25" fill="#b8504d" stroke="#4a4a4a" stroke-opacity="0.8" stroke-width="0.6"/>
<rect x="294.52" y="973.50" width="9.30" height="130.75" fill="#93ba5c" stroke="#4a4a4a" stroke-opacity="0.8" stroke-width="0.6"/>
<rect x="336.08" y="1099.25" width="9.30" height="5.00" fill="#b8504d" stroke="#4a4a4a" stroke-opacity="0.8" stroke-width="0.6"/>
<rect x="348.08" y="1080.75" width="9.30" height="23.50" fill="#93ba5c" stroke="#4a4a4a" stroke-opacity="0.8" stroke-width="0.6"/>
<rect x="377.64" y="1101.25" width="9.30" height="3.00" fill="#5d7db4" stroke="#4a4a4a" stroke-opacity="0.8" stroke-width="0.6"/>
<rect x="389.64" y="1084.50" width="9.30" height="19.75" fill="#b8504d" stroke="#4a4a4a" stroke-opacity="0.8" stroke-width="0.6"/>
<rect x="401.64" y="837.00" width="9.30" height="267.25" fill="#93ba5c" stroke="#4a4a4a" stroke-opacity="0.8" stroke-width="0.6"/>
<rect x="431.05" y="1103.45" width="9.60" height="0.80" fill="#3f4f6e"/>
<rect x="443.20" y="1098.25" width="9.30" height="6.00" fill="#b8504d" stroke="#4a4a4a" stroke-opacity="0.8" stroke-width="0.6"/>
<rect x="455.20" y="1055.50" width="9.30" height="48.75" fill="#93ba5c" stroke="#4a4a4a" stroke-opacity="0.8" stroke-width="0.6"/>
<line x1="153.25" y1="750.45" x2="153.25" y2="1104.85" stroke="#151313" stroke-width="1.6"/>
<line x1="152.65" y1="1104.25" x2="475.21" y2="1104.25" stroke="#151313" stroke-width="1.35"/>
<line x1="148.85" y1="751.25" x2="153.25" y2="751.25" stroke="#151313" stroke-width="1.7"/>
<line x1="148.85" y1="795.38" x2="153.25" y2="795.38" stroke="#151313" stroke-width="1.7"/>
<line x1="148.85" y1="839.50" x2="153.25" y2="839.50" stroke="#151313" stroke-width="1.7"/>
<line x1="148.85" y1="883.62" x2="153.25" y2="883.62" stroke="#151313" stroke-width="1.7"/>
<line x1="148.85" y1="927.75" x2="153.25" y2="927.75" stroke="#151313" stroke-width="1.7"/>
<line x1="148.85" y1="971.88" x2="153.25" y2="971.88" stroke="#151313" stroke-width="1.7"/>
<line x1="148.85" y1="1016.00" x2="153.25" y2="1016.00" stroke="#151313" stroke-width="1.7"/>
<line x1="148.85" y1="1060.12" x2="153.25" y2="1060.12" stroke="#151313" stroke-width="1.7"/>
<line x1="148.85" y1="1104.25" x2="153.25" y2="1104.25" stroke="#151313" stroke-width="1.7"/>
<line x1="153.25" y1="1104.25" x2="153.25" y2="1108.85" stroke="#151313" stroke-width="1.5"/>
<line x1="206.81" y1="1104.25" x2="206.81" y2="1108.85" stroke="#151313" stroke-width="1.5"/>
<line x1="260.37" y1="1104.25" x2="260.37" y2="1108.85" stroke="#151313" stroke-width="1.5"/>
<line x1="313.93" y1="1104.25" x2="313.93" y2="1108.85" stroke="#151313" stroke-width="1.5"/>
<line x1="367.49" y1="1104.25" x2="367.49" y2="1108.85" stroke="#151313" stroke-width="1.5"/>
<line x1="421.05" y1="1104.25" x2="421.05" y2="1108.85" stroke="#151313" stroke-width="1.5"/>
<line x1="474.61" y1="1104.25" x2="474.61" y2="1108.85" stroke="#151313" stroke-width="1.5"/>
<text x="67.68" y="757.50" font-size="18.9" text-anchor="start" textLength="65.85" lengthAdjust="spacingAndGlyphs">4.0 x 10</text>
<text x="135.46" y="744.90" font-size="12.6" text-anchor="start" textLength="5.91" lengthAdjust="spacingAndGlyphs">6</text>
<text x="67.39" y="803.60" font-size="18.9" text-anchor="start" textLength="66.13" lengthAdjust="spacingAndGlyphs">3.5 x 10</text>
<text x="135.46" y="791.00" font-size="12.6" text-anchor="start" textLength="5.91" lengthAdjust="spacingAndGlyphs">6</text>
<text x="67.39" y="849.90" font-size="18.9" text-anchor="start" textLength="66.13" lengthAdjust="spacingAndGlyphs">3.0 x 10</text>
<text x="135.46" y="837.30" font-size="12.6" text-anchor="start" textLength="5.91" lengthAdjust="spacingAndGlyphs">6</text>
<text x="67.16" y="896.00" font-size="18.9" text-anchor="start" textLength="66.37" lengthAdjust="spacingAndGlyphs">2.5 x 10</text>
<text x="135.46" y="883.40" font-size="12.6" text-anchor="start" textLength="5.91" lengthAdjust="spacingAndGlyphs">6</text>
<text x="67.16" y="939.15" font-size="18.9" text-anchor="start" textLength="66.37" lengthAdjust="spacingAndGlyphs">2.0 x 10</text>
<text x="135.46" y="926.55" font-size="12.6" text-anchor="start" textLength="5.91" lengthAdjust="spacingAndGlyphs">6</text>
<text x="66.67" y="982.95" font-size="18.9" text-anchor="start" textLength="66.87" lengthAdjust="spacingAndGlyphs">1.5 x 10</text>
<text x="135.46" y="970.35" font-size="12.6" text-anchor="start" textLength="5.91" lengthAdjust="spacingAndGlyphs">6</text>
<text x="66.67" y="1026.20" font-size="18.9" text-anchor="start" textLength="66.87" lengthAdjust="spacingAndGlyphs">1.0 x 10</text>
<text x="135.46" y="1013.60" font-size="12.6" text-anchor="start" textLength="5.91" lengthAdjust="spacingAndGlyphs">6</text>
<text x="67.37" y="1069.90" font-size="18.9" text-anchor="start" textLength="66.15" lengthAdjust="spacingAndGlyphs">0.5 x 10</text>
<text x="135.46" y="1057.30" font-size="12.6" text-anchor="start" textLength="5.91" lengthAdjust="spacingAndGlyphs">6</text>
<text x="175.93" y="1127.45" font-size="13.0" text-anchor="start" textLength="17.46" lengthAdjust="spacingAndGlyphs" style="stroke-width:0.2px">IE2</text>
<text x="219.37" y="1127.45" font-size="13.0" text-anchor="start" textLength="28.94" lengthAdjust="spacingAndGlyphs" style="stroke-width:0.2px">UL25</text>
<text x="272.85" y="1127.45" font-size="13.0" text-anchor="start" textLength="29.51" lengthAdjust="spacingAndGlyphs" style="stroke-width:0.2px">UL44</text>
<text x="326.62" y="1127.45" font-size="13.0" text-anchor="start" textLength="28.85" lengthAdjust="spacingAndGlyphs" style="stroke-width:0.2px">UL80</text>
<text x="379.33" y="1127.45" font-size="13.0" text-anchor="start" textLength="29.97" lengthAdjust="spacingAndGlyphs" style="stroke-width:0.2px">UL83</text>
<text x="433.08" y="1127.45" font-size="13.0" text-anchor="start" textLength="29.97" lengthAdjust="spacingAndGlyphs" style="stroke-width:0.2px">UL86</text>
<text x="162.01" y="1145.45" font-size="13.0" text-anchor="start" textLength="46.29" lengthAdjust="spacingAndGlyphs" style="stroke-width:0.2px">(UL122)</text>
<rect x="94.25" y="1165.00" width="22.2" height="21.7" fill="#5d7db4" stroke="#6b6b6b" stroke-width="0.6"/>
<text x="118.75" y="1181.30" font-size="18.6" text-anchor="start" textLength="88.27" lengthAdjust="spacingAndGlyphs">HB15 2hpi</text>
<rect x="230.25" y="1165.00" width="22.2" height="21.7" fill="#b8504d" stroke="#6b6b6b" stroke-width="0.6"/>
<text x="254.25" y="1181.30" font-size="18.6" text-anchor="start" textLength="88.02" lengthAdjust="spacingAndGlyphs">HB15 2dpi</text>
<rect x="365.90" y="1165.00" width="22.2" height="21.7" fill="#93ba5c" stroke="#6b6b6b" stroke-width="0.6"/>
<text x="390.50" y="1181.30" font-size="18.6" text-anchor="start" textLength="88.27" lengthAdjust="spacingAndGlyphs">HB15 4dpi</text>
<rect x="704.40" y="1095.00" width="9.30" height="9.25" fill="#b8504d" stroke="#4a4a4a" stroke-opacity="0.8" stroke-width="0.6"/>
<rect x="716.40" y="1066.00" width="9.30" height="38.25" fill="#93ba5c" stroke="#4a4a4a" stroke-opacity="0.8" stroke-width="0.6"/>
<rect x="745.81" y="1102.70" width="9.60" height="1.55" fill="#3f4f6e"/>
<rect x="757.96" y="1093.25" width="9.30" height="11.00" fill="#b8504d" stroke="#4a4a4a" stroke-opacity="0.8" stroke-width="0.6"/>
<rect x="769.96" y="1066.50" width="9.30" height="37.75" fill="#93ba5c" stroke="#4a4a4a" stroke-opacity="0.8" stroke-width="0.6"/>
<rect x="811.52" y="1048.50" width="9.30" height="55.75" fill="#b8504d" stroke="#4a4a4a" stroke-opacity="0.8" stroke-width="0.6"/>
<rect x="823.52" y="997.50" width="9.30" height="106.75" fill="#93ba5c" stroke="#4a4a4a" stroke-opacity="0.8" stroke-width="0.6"/>
<rect x="865.08" y="1090.25" width="9.30" height="14.00" fill="#b8504d" stroke="#4a4a4a" stroke-opacity="0.8" stroke-width="0.6"/>
<rect x="877.08" y="1073.00" width="9.30" height="31.25" fill="#93ba5c" stroke="#4a4a4a" stroke-opacity="0.8" stroke-width="0.6"/>
<rect x="906.64" y="1095.50" width="9.30" height="8.75" fill="#5d7db4" stroke="#4a4a4a" stroke-opacity="0.8" stroke-width="0.6"/>
<rect x="918.64" y="1077.00" width="9.30" height="27.25" fill="#b8504d" stroke="#4a4a4a" stroke-opacity="0.8" stroke-width="0.6"/>
<rect x="930.64" y="791.75" width="9.30" height="312.50" fill="#93ba5c" stroke="#4a4a4a" stroke-opacity="0.8" stroke-width="0.6"/>
<rect x="960.05" y="1103.20" width="9.60" height="1.05" fill="#3f4f6e"/>
<rect x="972.20" y="1091.25" width="9.30" height="13.00" fill="#b8504d" stroke="#4a4a4a" stroke-opacity="0.8" stroke-width="0.6"/>
<rect x="984.20" y="1053.75" width="9.30" height="50.50" fill="#93ba5c" stroke="#4a4a4a" stroke-opacity="0.8" stroke-width="0.6"/>
<line x1="681.75" y1="748.30" x2="681.75" y2="1104.85" stroke="#151313" stroke-width="1.6"/>
<line x1="681.15" y1="1104.25" x2="1003.71" y2="1104.25" stroke="#151313" stroke-width="1.35"/>
<line x1="677.35" y1="749.10" x2="681.75" y2="749.10" stroke="#151313" stroke-width="1.7"/>
<line x1="677.35" y1="793.49" x2="681.75" y2="793.49" stroke="#151313" stroke-width="1.7"/>
<line x1="677.35" y1="837.89" x2="681.75" y2="837.89" stroke="#151313" stroke-width="1.7"/>
<line x1="677.35" y1="882.28" x2="681.75" y2="882.28" stroke="#151313" stroke-width="1.7"/>
<line x1="677.35" y1="926.67" x2="681.75" y2="926.67" stroke="#151313" stroke-width="1.7"/>
<line x1="677.35" y1="971.07" x2="681.75" y2="971.07" stroke="#151313" stroke-width="1.7"/>
<line x1="677.35" y1="1015.46" x2="681.75" y2="1015.46" stroke="#151313" stroke-width="1.7"/>
<line x1="677.35" y1="1059.86" x2="681.75" y2="1059.86" stroke="#151313" stroke-width="1.7"/>
<line x1="677.35" y1="1104.25" x2="681.75" y2="1104.25" stroke="#151313" stroke-width="1.7"/>
<line x1="681.75" y1="1104.25" x2="681.75" y2="1108.85" stroke="#151313" stroke-width="1.5"/>
<line x1="735.31" y1="1104.25" x2="735.31" y2="1108.85" stroke="#151313" stroke-width="1.5"/>
<line x1="788.87" y1="1104.25" x2="788.87" y2="1108.85" stroke="#151313" stroke-width="1.5"/>
<line x1="842.43" y1="1104.25" x2="842.43" y2="1108.85" stroke="#151313" stroke-width="1.5"/>
<line x1="895.99" y1="1104.25" x2="895.99" y2="1108.85" stroke="#151313" stroke-width="1.5"/>
<line x1="949.55" y1="1104.25" x2="949.55" y2="1108.85" stroke="#151313" stroke-width="1.5"/>
<line x1="1003.11" y1="1104.25" x2="1003.11" y2="1108.85" stroke="#151313" stroke-width="1.5"/>
<text x="591.18" y="757.50" font-size="18.9" text-anchor="start" textLength="64.63" lengthAdjust="spacingAndGlyphs">4.0 x 10</text>
<text x="658.46" y="744.90" font-size="12.6" text-anchor="start" textLength="5.91" lengthAdjust="spacingAndGlyphs">6</text>
<text x="590.91" y="803.60" font-size="18.9" text-anchor="start" textLength="64.91" lengthAdjust="spacingAndGlyphs">3.5 x 10</text>
<text x="658.46" y="791.00" font-size="12.6" text-anchor="start" textLength="5.91" lengthAdjust="spacingAndGlyphs">6</text>
<text x="590.91" y="849.90" font-size="18.9" text-anchor="start" textLength="64.91" lengthAdjust="spacingAndGlyphs">3.0 x 10</text>
<text x="658.46" y="837.30" font-size="12.6" text-anchor="start" textLength="5.91" lengthAdjust="spacingAndGlyphs">6</text>
<text x="590.68" y="896.00" font-size="18.9" text-anchor="start" textLength="65.14" lengthAdjust="spacingAndGlyphs">2.5 x 10</text>
<text x="658.46" y="883.40" font-size="12.6" text-anchor="start" textLength="5.91" lengthAdjust="spacingAndGlyphs">6</text>
<text x="590.68" y="939.15" font-size="18.9" text-anchor="start" textLength="65.14" lengthAdjust="spacingAndGlyphs">2.0 x 10</text>
<text x="658.46" y="926.55" font-size="12.6" text-anchor="start" textLength="5.91" lengthAdjust="spacingAndGlyphs">6</text>
<text x="590.20" y="982.95" font-size="18.9" text-anchor="start" textLength="65.63" lengthAdjust="spacingAndGlyphs">1.5 x 10</text>
<text x="658.46" y="970.35" font-size="12.6" text-anchor="start" textLength="5.91" lengthAdjust="spacingAndGlyphs">6</text>
<text x="590.20" y="1026.20" font-size="18.9" text-anchor="start" textLength="65.63" lengthAdjust="spacingAndGlyphs">1.0 x 10</text>
<text x="658.46" y="1013.60" font-size="12.6" text-anchor="start" textLength="5.91" lengthAdjust="spacingAndGlyphs">6</text>
<text x="590.89" y="1069.90" font-size="18.9" text-anchor="start" textLength="64.93" lengthAdjust="spacingAndGlyphs">0.5 x 10</text>
<text x="658.46" y="1057.30" font-size="12.6" text-anchor="start" textLength="5.91" lengthAdjust="spacingAndGlyphs">6</text>
<text x="707.23" y="1127.45" font-size="13.0" text-anchor="start" textLength="17.35" lengthAdjust="spacingAndGlyphs" style="stroke-width:0.2px">IE2</text>
<text x="747.34" y="1127.45" font-size="13.0" text-anchor="start" textLength="29.68" lengthAdjust="spacingAndGlyphs" style="stroke-width:0.2px">UL25</text>
<text x="801.11" y="1127.45" font-size="13.0" text-anchor="start" textLength="29.25" lengthAdjust="spacingAndGlyphs" style="stroke-width:0.2px">UL44</text>
<text x="854.59" y="1127.45" font-size="13.0" text-anchor="start" textLength="29.64" lengthAdjust="spacingAndGlyphs" style="stroke-width:0.2px">UL80</text>
<text x="908.35" y="1127.45" font-size="13.0" text-anchor="start" textLength="29.44" lengthAdjust="spacingAndGlyphs" style="stroke-width:0.2px">UL83</text>
<text x="961.85" y="1127.45" font-size="13.0" text-anchor="start" textLength="29.44" lengthAdjust="spacingAndGlyphs" style="stroke-width:0.2px">UL86</text>
<text x="693.00" y="1145.45" font-size="13.0" text-anchor="start" textLength="46.81" lengthAdjust="spacingAndGlyphs" style="stroke-width:0.2px">(UL122)</text>
<rect x="614.50" y="1161.50" width="22.2" height="21.7" fill="#5d7db4" stroke="#6b6b6b" stroke-width="0.6"/>
<text x="638.70" y="1177.60" font-size="18.6" text-anchor="start" textLength="101.61" lengthAdjust="spacingAndGlyphs">BADwt 2hpi</text>
<rect x="750.40" y="1161.50" width="22.2" height="21.7" fill="#b8504d" stroke="#6b6b6b" stroke-width="0.6"/>
<text x="774.70" y="1177.60" font-size="18.6" text-anchor="start" textLength="101.61" lengthAdjust="spacingAndGlyphs">BADwt 2dpi</text>
<rect x="886.20" y="1161.50" width="22.2" height="21.7" fill="#93ba5c" stroke="#6b6b6b" stroke-width="0.6"/>
<text x="910.46" y="1177.60" font-size="18.6" text-anchor="start" textLength="101.35" lengthAdjust="spacingAndGlyphs">BADwt 4dpi</text>
</svg></body></html>
